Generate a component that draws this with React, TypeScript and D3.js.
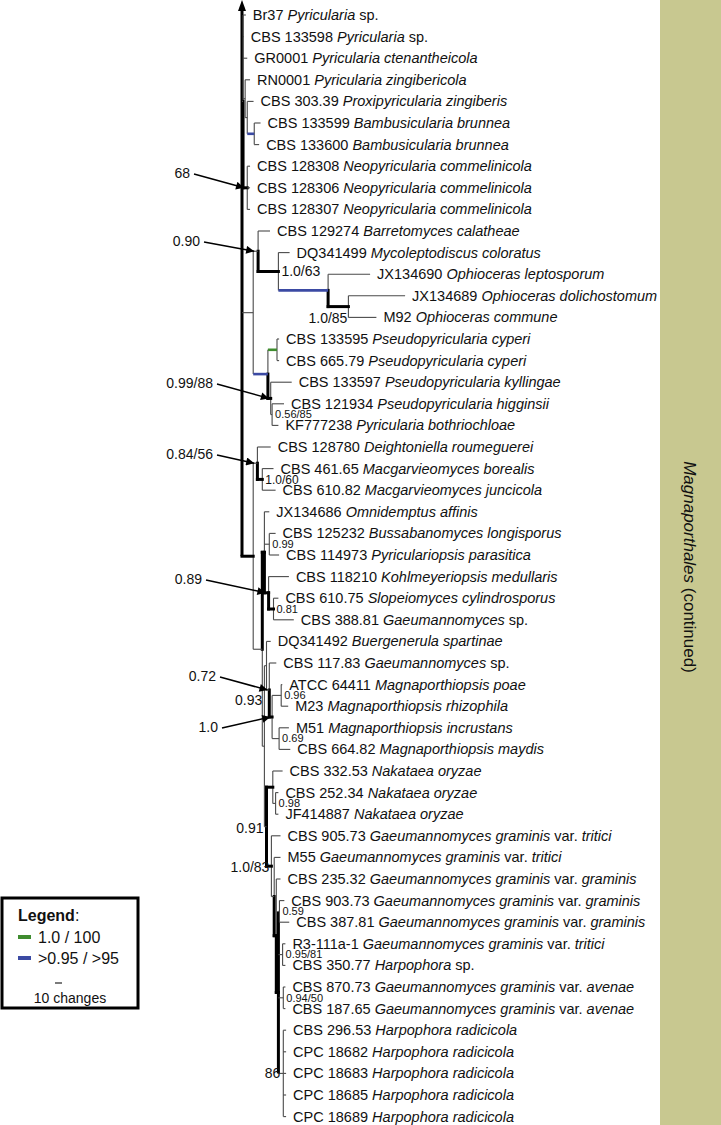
import React from 'react';
import * as d3 from 'd3';

// ---------- DATA ----------
const tipCodes = [
  'Br37', 'CBS 133598', 'GR0001', 'RN0001', 'CBS 303.39', 'CBS 133599', 'CBS 133600',
  'CBS 128308', 'CBS 128306', 'CBS 128307', 'CBS 129274', 'DQ341499', 'JX134690',
  'JX134689', 'M92', 'CBS 133595', 'CBS 665.79', 'CBS 133597', 'CBS 121934', 'KF777238',
  'CBS 128780', 'CBS 461.65', 'CBS 610.82', 'JX134686', 'CBS 125232', 'CBS 114973',
  'CBS 118210', 'CBS 610.75', 'CBS 388.81', 'DQ341492', 'CBS 117.83', 'ATCC 64411', 'M23',
  'M51', 'CBS 664.82', 'CBS 332.53', 'CBS 252.34', 'JF414887', 'CBS 905.73', 'M55',
  'CBS 235.32', 'CBS 903.73', 'CBS 387.81', 'R3-111a-1', 'CBS 350.77', 'CBS 870.73',
  'CBS 187.65', 'CBS 296.53', 'CPC 18682', 'CPC 18683', 'CPC 18685', 'CPC 18689',
];

const tipNames = [
  'Pyricularia sp.', 'Pyricularia sp.', 'Pyricularia ctenantheicola', 'Pyricularia zingibericola',
  'Proxipyricularia zingiberis', 'Bambusicularia brunnea', 'Bambusicularia brunnea',
  'Neopyricularia commelinicola', 'Neopyricularia commelinicola', 'Neopyricularia commelinicola',
  'Barretomyces calatheae', 'Mycoleptodiscus coloratus', 'Ophioceras leptosporum',
  'Ophioceras dolichostomum', 'Ophioceras commune', 'Pseudopyricularia cyperi',
  'Pseudopyricularia cyperi', 'Pseudopyricularia kyllingae', 'Pseudopyricularia higginsii',
  'Pyricularia bothriochloae', 'Deightoniella roumeguerei', 'Macgarvieomyces borealis',
  'Macgarvieomyces juncicola', 'Omnidemptus affinis', 'Bussabanomyces longisporus',
  'Pyriculariopsis parasitica', 'Kohlmeyeriopsis medullaris', 'Slopeiomyces cylindrosporus',
  'Gaeumannomyces sp.', 'Buergenerula spartinae', 'Gaeumannomyces sp.', 'Magnaporthiopsis poae',
  'Magnaporthiopsis rhizophila', 'Magnaporthiopsis incrustans', 'Magnaporthiopsis maydis',
  'Nakataea oryzae', 'Nakataea oryzae', 'Nakataea oryzae',
  'Gaeumannomyces graminis var. tritici', 'Gaeumannomyces graminis var. tritici',
  'Gaeumannomyces graminis var. graminis', 'Gaeumannomyces graminis var. graminis',
  'Gaeumannomyces graminis var. graminis', 'Gaeumannomyces graminis var. tritici',
  'Harpophora sp.', 'Gaeumannomyces graminis var. avenae', 'Gaeumannomyces graminis var. avenae',
  'Harpophora radicicola', 'Harpophora radicicola', 'Harpophora radicicola',
  'Harpophora radicicola', 'Harpophora radicicola',
];

// topology with branch lengths (changes); leaves are indices into tipCodes
const treeNewick =
  '(' +
  '(0:4,1:1,2:6,(3:7,(4:9,(5:9,6:7)Bamb:10)PyrB:3)PyrA:3,(7:4,8:4,9:4)Neo:6)Pyr:1.5,' +
  '((10:17,(11:16,(12:60,(13:81,14:40)OphB:29)Oph:71)Myc:29)Bar:7,' +
  '((15:3,16:3)Gr:13,(17:30,(18:17,19:9)PsC:2)PsB:4)Ps:21)Q1:16,' +
  '((20:19,(21:16,22:19)Mac:7)De:6,' +
  '((23:7,(24:9,25:14)Bus:7,(26:29,(27:7,28:29)Sl:7)Ko:6)Om:3,' +
  '((29:6,(30:10,((31:1.5,32:10)Mp:13,(33:14,34:16)Mp2:10)Mq:4)Bu2:4)Bu:3,' +
  '((35:14,(36:4,37:4)Nak2:4)Nak:9,' +
  '(38:13,(39:9,(40:6,((41:7,42:14)G3:1.5,(43:4,44:4)G4:6,(45:3,46:3)G5:7,(47:4,48:4,49:4,50:4,51:4)H:7)G1d:3)G1c:3)G1b:4)G1:7)B3:3)B2:3)B1b:13)B1:16' +
  ')root;';

// support classes of branches
const strongBranches = ['Neo', 'Myc', 'OphB', 'PsB', 'B1', 'Mac', 'Om', 'Ko', 'Sl', 'Mq', 'Nak', 'G1', 'G1c', 'G1d'];
const blueBranches = ['Bamb', 'Oph', 'Ps'];
const greenBranches = ['Gr'];
const strongVerticals = ['G1d'];

// support values: [node, text]
const smallRightSupports = [
  ['PsC', '0.56/85'], ['Bus', '0.99'], ['Sl', '0.81'], ['Mp', '0.96'], ['Mp2', '0.69'],
  ['Nak2', '0.98'], ['G3', '0.59'], ['G4', '0.95/81'], ['G5', '0.94/50'],
];
const rightSupports = [['Myc', '1.0/63', 14], ['Mac', '1.0/60', 12]];
const leftSupports = [['B3', '0.91'], ['G1', '1.0/83'], ['H', '86'], ['Bu2', '0.93']];
const belowSupports = [['OphB', '1.0/85']];
const arrowSupports = [
  ['Neo', '68'], ['Bar', '0.90'], ['PsB', '0.99/88'], ['De', '0.84/56'],
  ['Ko', '0.89'], ['Bu2', '0.72'], ['Mq', '1.0'],
];

// ---------- LAYOUT CONSTANTS ----------
const W = 721;
const H = 1125;
const FONT = '"Liberation Sans", Arial, Helvetica, sans-serif';
const arrowTextPos: Record<string, [number, number]> = {
  '68': [190, 173], '0.90': [200, 241], '0.99/88': [213, 383], '0.84/56': [213, 454],
  '0.89': [202, 579], '0.72': [216, 676], '1.0': [218, 727],
};
const leftOffsets: Record<string, [number, number]> = {
  '0.91': [-3, 1], '1.0/83': [-2, 1], '86': [-3, 0], '0.93': [-7, 10],
};

type PNode = { name: string; length: number; children?: PNode[] };

function parseNewick(s: string): PNode {
  let i = 0;
  function node(): PNode {
    const n: PNode = { name: '', length: 0 };
    if (s[i] === '(') {
      i++;
      n.children = [];
      for (;;) {
        n.children.push(node());
        if (s[i] === ',') { i++; continue; }
        if (s[i] === ')') { i++; break; }
        break;
      }
    }
    let name = '';
    while (i < s.length && !',):;'.includes(s[i])) name += s[i++];
    n.name = name;
    if (s[i] === ':') {
      i++;
      let num = '';
      while (i < s.length && !',);'.includes(s[i])) num += s[i++];
      n.length = +num;
    }
    return n;
  }
  return node();
}

function TipLabel({ x, y, code, name }: { x: number; y: number; code: string; name: string }) {
  let parts: [string, boolean][] = [];
  if (name.endsWith(' sp.')) {
    parts = [[name.slice(0, -4), true], [' sp.', false]];
  } else if (name.includes(' var. ')) {
    const [a, b] = name.split(' var. ');
    parts = [[a, true], [' var. ', false], [b, true]];
  } else parts = [[name, true]];
  return (
    <text x={x} y={y} dy="0.35em" fontSize={14.5} fontFamily={FONT} fill="#111">
      <tspan>{code + ' '}</tspan>
      {parts.map((p, k) => (
        <tspan key={k} fontStyle={p[1] ? 'italic' : 'normal'}>{p[0]}</tspan>
      ))}
    </text>
  );
}

export default function App() {
  const root = d3.hierarchy(parseNewick(treeNewick)) as any;
  const xScale = d3.scaleLinear().domain([0, 100]).range([242, 312]);
  const yScale = d3.scaleLinear().domain([0, tipCodes.length - 1]).range([15, 1116.6]);

  root.eachBefore((d: any) => {
    d.len = (d.parent ? d.parent.len : 0) + (d.parent ? d.data.length : 0);
    d.x = xScale(d.len);
  });
  root.eachAfter((d: any) => {
    if (d.children) {
      d.y = (d.children[0].y + d.children[d.children.length - 1].y) / 2;
    } else {
      d.y = yScale(+d.data.name);
    }
  });
  const byName: Record<string, any> = {};
  root.each((d: any) => { if (d.data.name) byName[d.data.name] = d; });

  const styleOf = (name: string) => {
    if (greenBranches.includes(name)) return { stroke: '#3f8c2f', w: 2.6, cap: 'butt' };
    if (blueBranches.includes(name)) return { stroke: '#3b4aa3', w: 2.6, cap: 'butt' };
    if (strongBranches.includes(name)) return { stroke: '#000', w: 3, cap: 'square' };
    return { stroke: '#4a4a4a', w: 1.1, cap: 'butt' };
  };

  const horiz: any[] = [];
  const vert: any[] = [];
  root.each((d: any) => {
    if (d.parent) {
      const st = styleOf(d.data.name);
      horiz.push(
        <line key={'h' + d.data.name + d.len + d.y} x1={d.parent.x} x2={d.x} y1={d.y} y2={d.y}
          stroke={st.stroke} strokeWidth={st.w} strokeLinecap={st.cap as any} />
      );
    }
    if (d.children && d.parent) {
      const y1 = d.children[0].y;
      const y2 = d.children[d.children.length - 1].y;
      const full = strongVerticals.includes(d.data.name);
      vert.push(
        <line key={'v' + d.data.name} x1={d.x} x2={d.x} y1={y1} y2={y2}
          stroke={full ? '#000' : '#4a4a4a'} strokeWidth={full ? 3 : 1.1} />
      );
      d.children.forEach((c: any) => {
        if (strongBranches.includes(c.data.name)) {
          vert.push(
            <line key={'vt' + c.data.name} x1={d.x} x2={d.x} y1={d.y} y2={c.y}
              stroke="#000" strokeWidth={3} strokeLinecap="square" />
          );
        }
      });
    }
  });

  const lastRootChild = root.children[root.children.length - 1];

  return (
    <svg width={W} height={H} viewBox={`0 0 ${W} ${H}`}
      style={{ position: 'absolute', left: 0, top: 0, display: 'block', background: '#fff' }}>
      <defs>
        <marker id="ah" viewBox="0 0 10 10" refX="10" refY="5" markerWidth="10" markerHeight="8"
          markerUnits="userSpaceOnUse" orient="auto">
          <path d="M0,0 L10,5 L0,10 z" fill="#000" />
        </marker>
      </defs>
      <rect x={0} y={0} width={W} height={H} fill="#fff" />

      {/* side band */}
      <rect x={660} y={0} width={61} height={H} fill="#c8c890" />
      <text transform={`translate(690, 567) rotate(90)`} textAnchor="middle" dy="0.35em"
        fontSize={17} fontFamily={FONT} fill="#111">
        <tspan fontStyle="italic">Magnaporthales</tspan>
        <tspan> (continued)</tspan>
      </text>

      {/* root backbone with arrow */}
      <line x1={root.x} x2={root.x} y1={9} y2={lastRootChild.y} stroke="#000" strokeWidth={3} />
      <path d={`M${root.x},0 L${root.x - 4},11 L${root.x + 4},11 Z`} fill="#000" />

      {vert}
      {horiz}

      {/* tip labels */}
      {root.leaves().map((l: any) => {
        const i = +l.data.name;
        return <TipLabel key={'t' + i} x={l.x + 7} y={l.y} code={tipCodes[i]} name={tipNames[i]} />;
      })}

      {/* supports */}
      {smallRightSupports.map(([n, t]) => {
        const d = byName[n];
        return (
          <text key={'sr' + n} x={d.x + 3} y={d.y} dy="0.35em" fontSize={11} fontFamily={FONT} fill="#111">{t}</text>
        );
      })}
      {rightSupports.map(([n, t, fs]) => {
        const d = byName[n as string];
        return (
          <text key={'r' + n} x={d.x + 3} y={d.y} dy="0.35em" fontSize={fs as number} fontFamily={FONT} fill="#111">{t}</text>
        );
      })}
      {belowSupports.map(([n, t]) => {
        const d = byName[n];
        return (
          <text key={'b' + n} x={d.x - 1} y={d.y + 11} dy="0.35em" textAnchor="end" fontSize={14} fontFamily={FONT} fill="#111">{t}</text>
        );
      })}
      {leftSupports.map(([n, t]) => {
        const d = byName[n];
        const [dx, dy] = leftOffsets[t];
        return (
          <text key={'l' + n + t} x={d.x + dx} y={d.y + dy} dy="0.35em" textAnchor="end" fontSize={14} fontFamily={FONT} fill="#111">{t}</text>
        );
      })}
      {arrowSupports.map(([n, t]) => {
        const d = byName[n];
        const [tx, ty] = arrowTextPos[t];
        const ex = d.parent.x + 1;
        return (
          <g key={'a' + n}>
            <text x={tx} y={ty} dy="0.35em" textAnchor="end" fontSize={14} fontFamily={FONT} fill="#111">{t}</text>
            <line x1={tx + 4} y1={ty + 1} x2={ex} y2={d.y} stroke="#000" strokeWidth={1.5} markerEnd="url(#ah)" />
          </g>
        );
      })}

      {/* legend */}
      <rect x={2} y={898} width={136} height={110} fill="#fff" stroke="#000" strokeWidth={3} />
      <text x={18} y={915} dy="0.35em" fontSize={16} fontFamily={FONT} fill="#111">
        <tspan fontWeight="bold">Legend</tspan><tspan>:</tspan>
      </text>
      <line x1={18} x2={31} y1={937} y2={937} stroke="#3f8c2f" strokeWidth={4} />
      <text x={38} y={937} dy="0.35em" fontSize={16} fontFamily={FONT} fill="#111">1.0 / 100</text>
      <line x1={18} x2={31} y1={958} y2={958} stroke="#3b4aa3" strokeWidth={4} />
      <text x={38} y={958} dy="0.35em" fontSize={16} fontFamily={FONT} fill="#111">{'>0.95 / >95'}</text>
      <line x1={55} x2={55 + xScale(10) - xScale(0)} y1={983} y2={983} stroke="#222" strokeWidth={1.2} />
      <text x={70} y={998} dy="0.35em" textAnchor="middle" fontSize={14} fontFamily={FONT} fill="#111">10 changes</text>
    </svg>
  );
}
